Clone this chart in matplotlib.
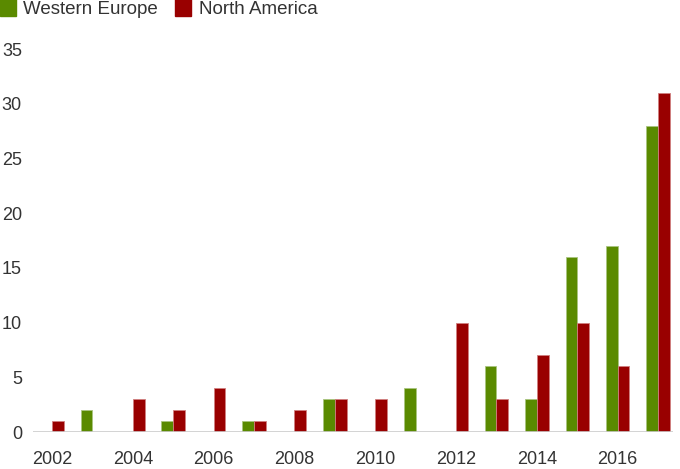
import matplotlib
matplotlib.use("Agg")
import matplotlib.pyplot as plt
import matplotlib.patches as mpatches
import numpy as np

years = list(range(2002, 2018))
western_europe = [0, 2, 0, 1, 0, 1, 0, 3, 0, 4, 0, 6, 3, 16, 17, 28]
north_america = [1, 0, 3, 2, 4, 1, 2, 3, 3, 0, 10, 3, 7, 10, 6, 31]
series_names = ["Western Europe", "North America"]
colors = ["#5a8a00", "#990000"]
edge_colors = ["#a9c47f", "#d08080"]
xtick_years = [2002, 2004, 2006, 2008, 2010, 2012, 2014, 2016]
yticks = [0, 5, 10, 15, 20, 25, 30, 35]

plt.rcParams['font.family'] = ['Liberation Sans', 'DejaVu Sans']

fig = plt.figure(figsize=(6.8, 4.69), dpi=100)
ax = fig.add_axes([33/680, 1-432/469, 640/680, 383/469])

x = np.array(years, dtype=float)
w = 0.29
for vals, off, c, ec in [(western_europe, -w/2, colors[0], edge_colors[0]),
                         (north_america, w/2, colors[1], edge_colors[1])]:
    ax.bar(x + off, vals, width=w, color=c, edgecolor=ec, linewidth=0.6, zorder=2)

ax.set_xlim(2002 - 0.47, 2017 + 0.37)
ax.set_ylim(0, 35)
for s in ax.spines.values():
    s.set_visible(False)
ax.axhline(0, color="#cccccc", linewidth=1.2, zorder=3)
ax.set_yticks(yticks)
ax.set_xticks(xtick_years)
ax.set_xticklabels([str(y) for y in xtick_years])
ax.tick_params(axis='both', length=0, labelsize=13, colors="#333333")
ax.tick_params(axis='x', pad=14)
ax.tick_params(axis='y', pad=8)

# legend
fig.patches.append(mpatches.Rectangle((0, 1-16/469), 16/680, 18/469, transform=fig.transFigure,
                                      color=colors[0], clip_on=False))
fig.text(23/680, 1-10/469, series_names[0], fontsize=13.5, color="#333333", va='center', ha='left')
fig.patches.append(mpatches.Rectangle((175/680, 1-16/469), 16/680, 18/469, transform=fig.transFigure,
                                      color=colors[1], clip_on=False))
fig.text(199/680, 1-10/469, series_names[1], fontsize=13.5, color="#333333", va='center', ha='left')

fig.savefig("out.png", dpi=100)
